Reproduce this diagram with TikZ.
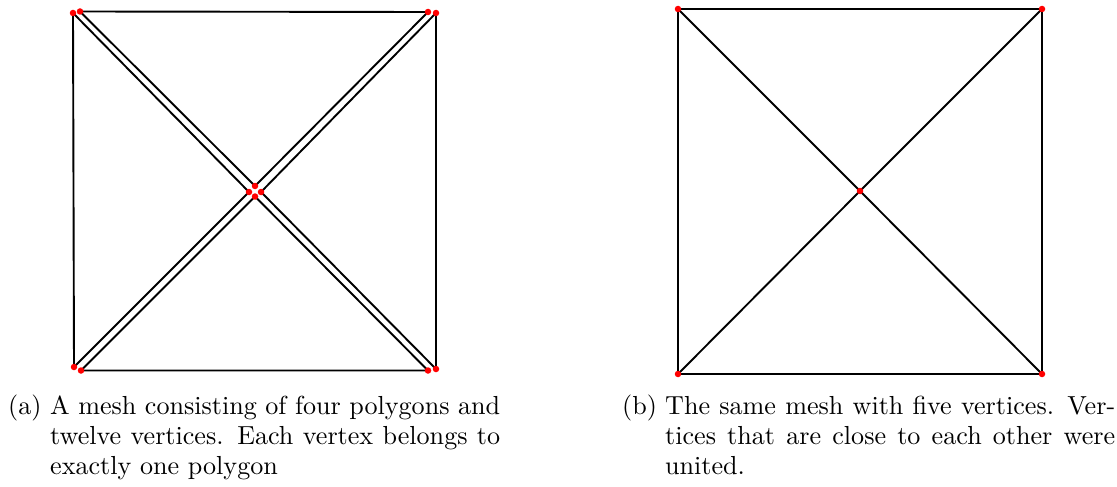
\documentclass[tikz,border=0pt]{standalone}
\usepackage{fontspec}
\newfontfamily\capfont{lmroman10-regular.otf}
\tikzset{
  meshedge/.style={line width=1.9pt, line cap=round, line join=round},
  vdot/.style={circle, fill=red, inner sep=0pt, minimum size=6.5pt},
  captext/.style={anchor=base west, inner sep=0pt, font=\capfont\fontsize{26.1}{30}\selectfont},
}
\begin{document}
\begin{tikzpicture}[x=1pt,y=-1pt]
\useasboundingbox (0,0) rectangle (1117,487);
% ---------- left mesh: four polygons, twelve vertices ----------
\coordinate (l1) at (73,13);
\coordinate (l2) at (74,367);
\coordinate (l3) at (249,192);
\coordinate (t1) at (80,11.5);
\coordinate (t2) at (428,12);
\coordinate (t3) at (255,186);
\coordinate (r1) at (436,13);
\coordinate (r2) at (436,369);
\coordinate (r3) at (261,192);
\coordinate (b1) at (81,370.5);
\coordinate (b2) at (428,370.5);
\coordinate (b3) at (255,196.5);
\draw[meshedge] (l1) -- (l2) -- (l3) -- cycle;
\draw[meshedge] (t1) -- (t2) -- (t3) -- cycle;
\draw[meshedge] (r1) -- (r2) -- (r3) -- cycle;
\draw[meshedge] (b1) -- (b2) -- (b3) -- cycle;
\foreach \v in {l1,l2,l3,t1,t2,t3,r1,r2,r3,b1,b2,b3}
  \node[vdot] (d\v) at (\v) {};
% ---------- right mesh: five vertices ----------
\coordinate (p1) at (678,9);
\coordinate (p2) at (1042,9);
\coordinate (p3) at (1042,374);
\coordinate (p4) at (678,374);
\coordinate (pc) at (860,191);
\draw[meshedge] (p1) -- (p2) -- (p3) -- (p4) -- cycle;
\draw[meshedge] (p1) -- (pc) -- (p3);
\draw[meshedge] (p2) -- (pc) -- (p4);
\foreach \v in {p1,p2,p3,p4,pc}
  \node[vdot] (d\v) at (\v) {};
% ---------- captions ----------
\node[captext] (capa) at (8,414) {(a)};
\node[captext] (capa1) at (50,414) {\makebox[450pt][s]{A mesh consisting of four polygons and}};
\node[captext] (capa2) at (50,444) {\makebox[450pt][s]{twelve vertices. Each vertex belongs to}};
\node[captext] (capa3) at (50,474) {exactly one polygon};
\node[captext] (capb) at (622,414) {(b)};
\node[captext] (capb1) at (665,414) {\makebox[450pt][s]{The same mesh with five vertices. Ver-}};
\node[captext] (capb2) at (665,444) {\makebox[450pt][s]{tices that are close to each other were}};
\node[captext] (capb3) at (665,474) {united.};
\end{tikzpicture}
\end{document}
